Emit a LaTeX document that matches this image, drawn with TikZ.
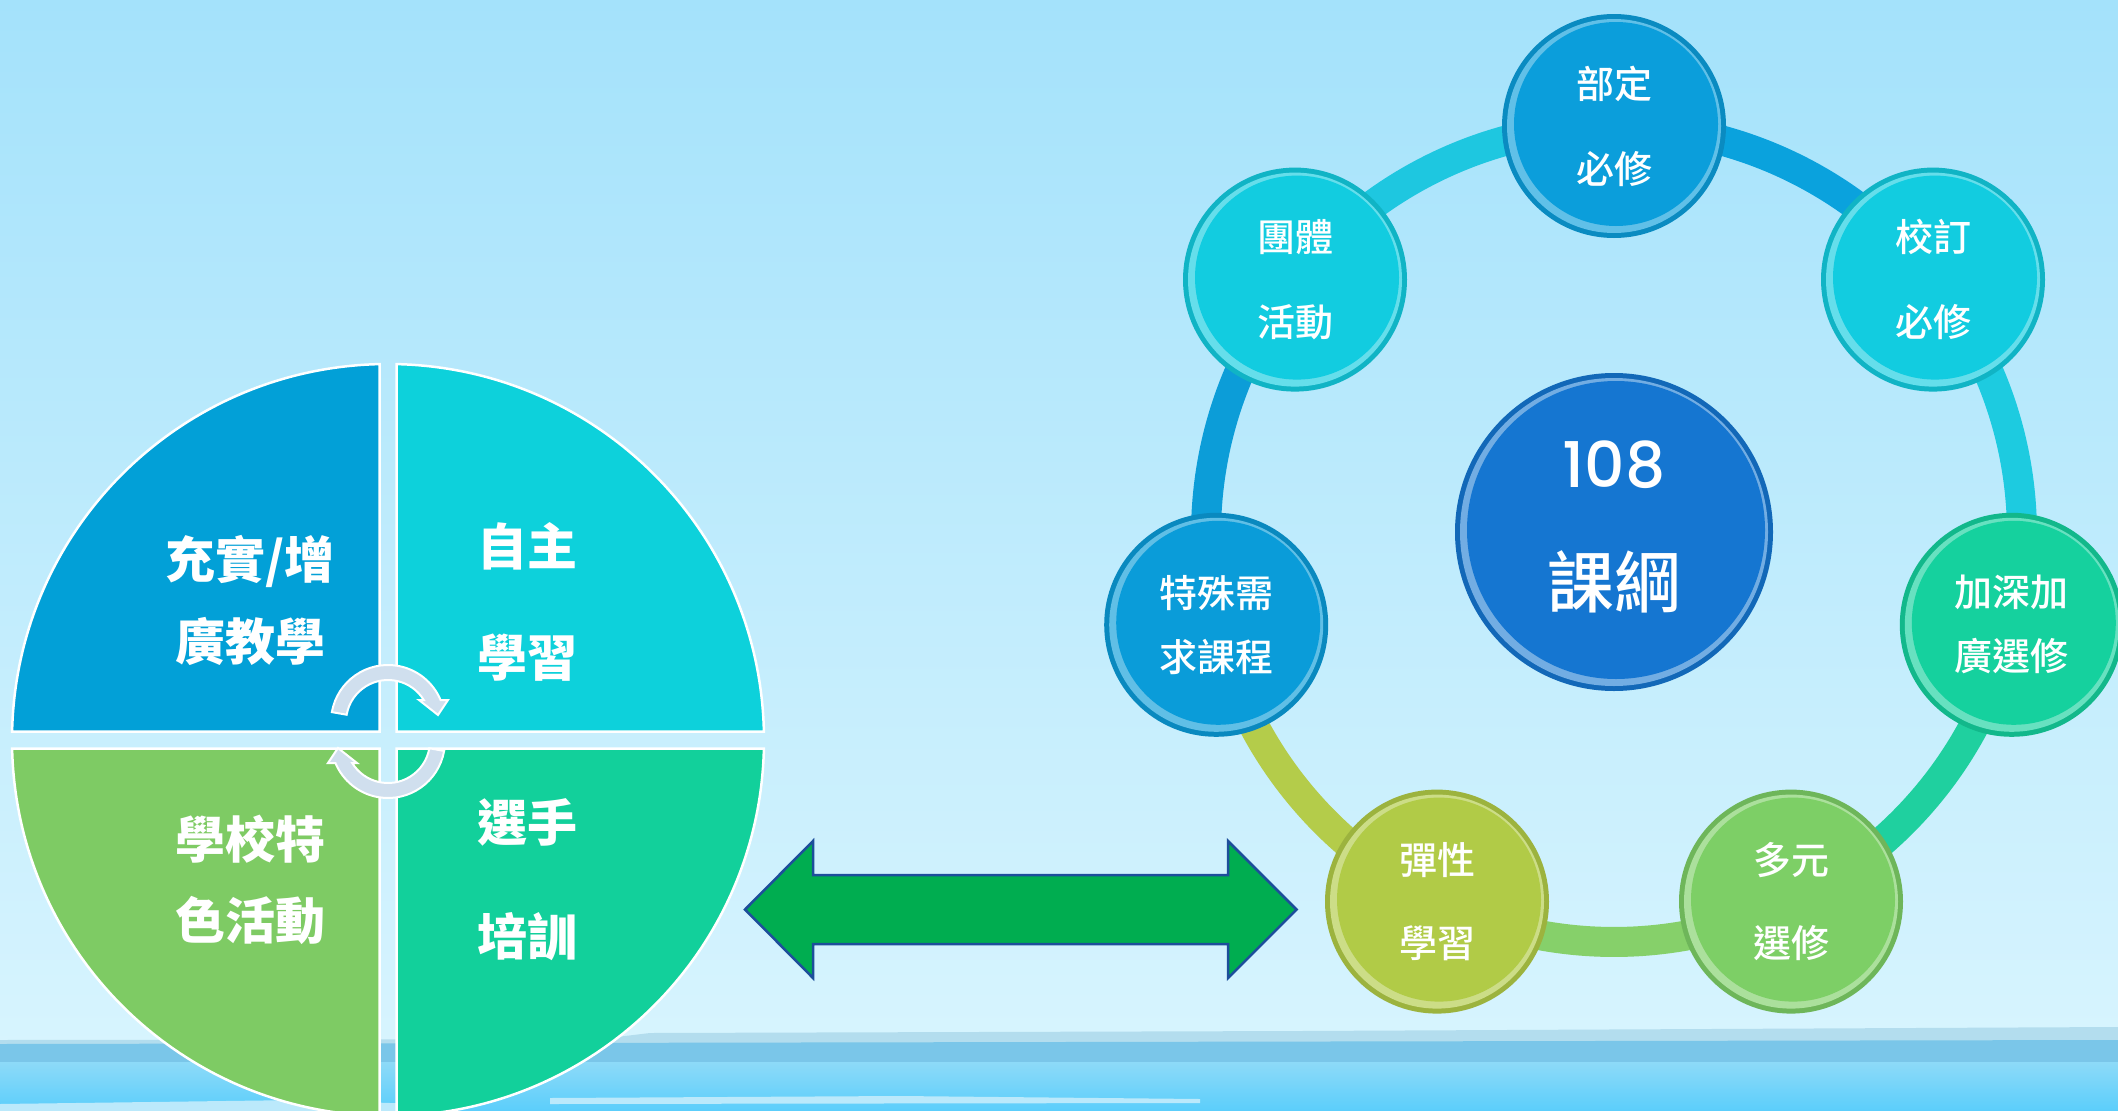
\documentclass[tikz,border=0pt]{standalone}
\usepackage{fontspec}
\newfontfamily\cjk{Noto Sans CJK TC}
\newfontfamily\cjkm{Noto Sans CJK TC}[UprightFont={* Medium}]
\newfontfamily\numfont{Poppins}[UprightFont={* Medium}]
\definecolor{skytop}{HTML}{A4E2FB}
\definecolor{skybot}{HTML}{D7F4FE}
\definecolor{seaband}{HTML}{B3DDEE}
\definecolor{seadark}{HTML}{7AC6E9}
\definecolor{seamid}{HTML}{8DDAF8}
\definecolor{seabot}{HTML}{5BCEFB}
\definecolor{qtl}{HTML}{02A0D7}
\definecolor{qtr}{HTML}{0DD1DB}
\definecolor{qbl}{HTML}{7ECB64}
\definecolor{qbr}{HTML}{12D09B}
\definecolor{cycfill}{HTML}{D0DFEE}
\definecolor{arrowgreen}{HTML}{00AD50}
\definecolor{arrowedge}{HTML}{1D4E9B}
\definecolor{cblue}{HTML}{0B9EDB}
\definecolor{ccyan}{HTML}{12CCE0}
\definecolor{cteal}{HTML}{15D19E}
\definecolor{cgreen}{HTML}{7DCF66}
\definecolor{cyellow}{HTML}{B1CB47}
\definecolor{cblue2}{HTML}{0A9CD9}
\definecolor{ccore}{HTML}{1576D1}
\definecolor{sg1}{HTML}{0AA2DD}
\definecolor{sg2}{HTML}{1DCBE0}
\definecolor{sg3}{HTML}{1FD09F}
\definecolor{sg4}{HTML}{86D06A}
\definecolor{sg5}{HTML}{B4CC4A}
\definecolor{sg6}{HTML}{0C9DD8}
\definecolor{sg7}{HTML}{1EC7E0}

\tikzset{
  quad/.style={fill=#1, draw=white, line width=2.5},
  quadtext/.style={text=white, inner sep=0, align=center, font=\cjk\bfseries\fontsize{50}{#1}\selectfont},
  cycarrow/.style={fill=cycfill, draw=white, line width=2},
  ringseg/.style={draw=#1, line width=30},
  balltext/.style={text=white, inner sep=0, align=center, font=\cjkm\fontsize{38}{#1}\selectfont},
  bigarrow/.style={fill=arrowgreen, draw=arrowedge, line width=2.5, line join=miter},
}

\newcommand{\kball}[6]{%
  \fill[#4!88!black] (#2,#3) circle[radius=112];
  \fill[#4!65!white] (#2,#3) circle[radius=107];
  \fill[#4] (#2+2,#3-2) circle[radius=102];
  \node[balltext=#5] (#1) at (#2,#3) {#6};
}

\begin{document}
\begin{tikzpicture}[x=1pt,y=-1pt]
\useasboundingbox (0,0) rectangle (2118,1111);
\clip (0,0) rectangle (2118,1111);
% sky
\shade[top color=skytop, bottom color=skybot] (0,0) rectangle (2118,1046);
% sea
\fill[seaband] (0,1040) -- (600,1039) -- (650,1033) -- (1300,1031) -- (2118,1027) -- (2118,1050) -- (0,1050) -- cycle;
\fill[seadark] (0,1044) -- (2118,1040) -- (2118,1062) -- (0,1063) -- cycle;
\shade[top color=seamid, bottom color=seabot] (0,1062) rectangle (2118,1111);
\fill[seamid!60!white] (0,1104) -- (150,1102) -- (300,1100) -- (420,1104) -- (420,1111) -- (0,1111) -- cycle;
\fill[seamid!60!white] (550,1098) -- (900,1096) -- (1200,1099) -- (1200,1103) -- (550,1104) -- cycle;

% left circle quadrants
\path[quad=qtl] (379.5,731.5) -- (379.5,364.1) arc[start angle=268.705, end angle=181.295, radius=376] -- cycle;
\path[quad=qtr] (396.5,731.5) -- (396.5,364.1) arc[start angle=271.295, end angle=358.705, radius=376] -- cycle;
\path[quad=qbr] (396.5,748.5) -- (763.9,748.5) arc[start angle=1.295, end angle=88.705, radius=376] -- cycle;
\path[quad=qbl] (379.5,748.5) -- (379.5,1115.9) arc[start angle=91.295, end angle=178.705, radius=376] -- cycle;

\node[quadtext=82] (q1) at (250,600) {充實/增\\廣教學};
\node[quadtext=111] (q2) at (527,602) {自主\\學習};
\node[quadtext=114] (q3) at (527,880) {選手\\培訓};
\node[quadtext=81] (q4) at (250,880) {學校特\\色活動};

% cycle arrows
\begin{scope}[shift={(388,722)}]
\path[cycarrow] (190:57) arc[start angle=190,end angle=337.3,radius=57] -- (60,-22) -- (50,-7) -- (31,-22) -- (35.8,-22) arc[start angle=328.4,end angle=190,radius=42] -- cycle;
\end{scope}
\begin{scope}[shift={(388,741)}, rotate=180]
\path[cycarrow] (190:57) arc[start angle=190,end angle=337.3,radius=57] -- (60,-22) -- (50,-7) -- (31,-22) -- (35.8,-22) arc[start angle=328.4,end angle=190,radius=42] -- cycle;
\end{scope}

% double arrow
\path[bigarrow] (745,909.5) -- (813,841) -- (813,875) -- (1228,875) -- (1228,841) -- (1296.5,909.5) -- (1228,978) -- (1228,944) -- (813,944) -- (813,978) -- cycle;

% ring
\coordinate (rc) at (1614,534);
\draw[ringseg=sg1] (rc) ++(270:408) arc[start angle=270,end angle=321.43,radius=408];
\draw[ringseg=sg2] (rc) ++(321.43:408) arc[start angle=321.43,end angle=372.86,radius=408];
\draw[ringseg=sg3] (rc) ++(12.86:408) arc[start angle=12.86,end angle=64.29,radius=408];
\draw[ringseg=sg4] (rc) ++(64.29:408) arc[start angle=64.29,end angle=115.71,radius=408];
\draw[ringseg=sg5] (rc) ++(115.71:408) arc[start angle=115.71,end angle=167.14,radius=408];
\draw[ringseg=sg6] (rc) ++(167.14:408) arc[start angle=167.14,end angle=218.57,radius=408];
\draw[ringseg=sg7] (rc) ++(218.57:408) arc[start angle=218.57,end angle=270,radius=408];

% ring nodes
\kball{bd}{1614}{126}{cblue}{85}{部定\\必修}
\kball{xd}{1933}{279.6}{ccyan}{85}{校訂\\必修}
\kball{jsjg}{2011.8}{624.8}{cteal}{64}{加深加\\廣選修}
\kball{dy}{1791}{901.6}{cgreen}{83}{多元\\選修}
\kball{tx}{1437}{901.6}{cyellow}{83}{彈性\\學習}
\kball{tszq}{1216.2}{624.8}{cblue2}{64}{特殊需\\求課程}
\kball{tt}{1295}{279.6}{ccyan}{85}{團體\\活動}

% core
\fill[ccore!88!black] (1614,532) circle[radius=159];
\fill[ccore!60!white] (1614,532) circle[radius=154];
\fill[ccore] (1616,530) circle[radius=149];
\node[text=white, inner sep=0, font=\numfont\fontsize{63}{70}\selectfont] (core) at (1614,465) {108};
\node[text=white, inner sep=0, font=\cjkm\fontsize{67}{70}\selectfont] (corelabel) at (1614,582) {課綱};
\end{tikzpicture}
\end{document}
